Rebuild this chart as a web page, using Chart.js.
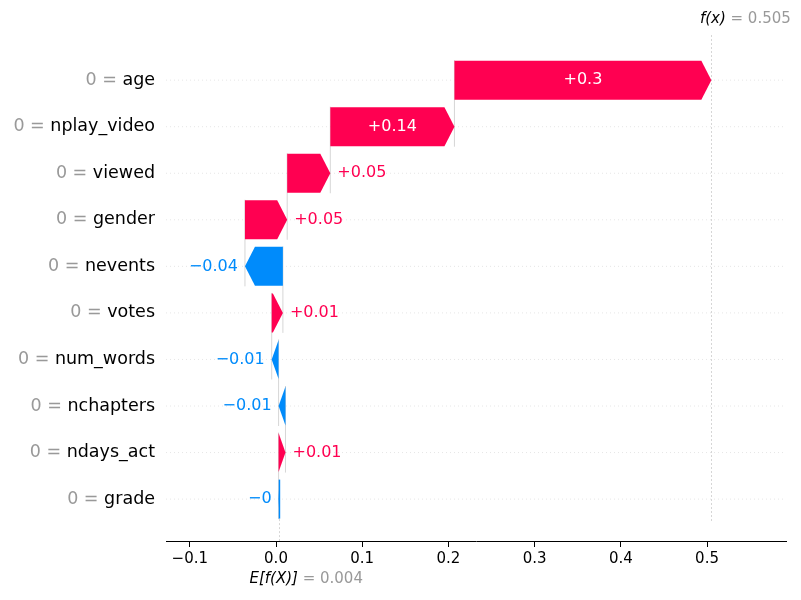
<!DOCTYPE html>
<html><head><meta charset="utf-8">
<script src="https://cdn.jsdelivr.net/npm/chart.js@4/dist/chart.umd.min.js"></script>
<style>body{margin:0;background:#fff}#w{width:801px;height:600px}</style>
</head><body><div id="w"><canvas id="c"></canvas></div>
<script>
// top to bottom
const features = ["age","nplay_video","viewed","gender","nevents","votes","num_words","nchapters","ndays_act","grade"];
const featureValues = ["0","0","0","0","0","0","0","0","0","0"];
const shapValues = [0.298,0.144,0.05,0.049,-0.044,0.013,-0.008,-0.008,0.008,-0.001];
const shapLabels = ["+0.3","+0.14","+0.05","+0.05","\u22120.04","+0.01","\u22120.01","\u22120.01","+0.01","\u22120"];
const baseValue = 0.004;
const fxValue = 0.505;
const xTicks = [-0.1,0,0.1,0.2,0.3,0.4,0.5];

const RED="#ff0051", BLUE="#008bfb", FONT="DejaVu Sans";
const n = features.length;
const data = new Array(n);
let cum = baseValue;
for (let i = n-1; i >= 0; i--) {
  const s = cum, e = cum + shapValues[i];
  data[i] = {x:[s,e], y:n-1-i};
  cum = e;
}

const plug = {
  id:'shap',
  beforeDatasetsDraw(ch){
    const c=ch.ctx, a=ch.chartArea, xs=ch.scales.x, ys=ch.scales.y;
    c.save();
    c.strokeStyle="#e6e6e6"; c.lineWidth=1; c.setLineDash([1,3]);
    for(let i=0;i<n;i++){const y=ys.getPixelForValue(i);c.beginPath();c.moveTo(a.left,y);c.lineTo(a.right,y);c.stroke();}
    c.setLineDash([]);
    c.strokeStyle="#bbbbbb"; c.lineWidth=0.6;
    for(let i=1;i<n;i++){
      const x=xs.getPixelForValue(data[i].x[1]);
      c.beginPath();c.moveTo(x,ys.getPixelForValue(n-1-i)+20);c.lineTo(x,ys.getPixelForValue(n-i)-20);c.stroke();
    }
    c.setLineDash([2,2]);
    let x=xs.getPixelForValue(fxValue);
    c.beginPath();c.moveTo(x,a.top);c.lineTo(x,a.bottom-20);c.stroke();
    x=xs.getPixelForValue(baseValue);
    c.beginPath();c.moveTo(x,ys.getPixelForValue(0));c.lineTo(x,a.bottom);c.stroke();
    c.restore();
  },
  afterDatasetsDraw(ch){
    const c=ch.ctx, xs=ch.scales.x, ys=ch.scales.y;
    const meta=ch.getDatasetMeta(0);
    c.save();
    c.textBaseline="middle";
    meta.data.forEach((el,i)=>{
      const v=shapValues[i];
      const p=el.getProps(['y','height'],true);
      const s=xs.getPixelForValue(data[i].x[0]), e=xs.getPixelForValue(data[i].x[1]), h=p.height, y=p.y;
      const len=Math.abs(e-s), dir=v>=0?1:-1;
      const hl=Math.min(len,10);
      c.fillStyle=v>=0?RED:BLUE;
      c.beginPath();
      c.moveTo(s,y-h/2);c.lineTo(e-dir*hl,y-h/2);c.lineTo(e,y);c.lineTo(e-dir*hl,y+h/2);c.lineTo(s,y+h/2);c.closePath();
      c.fill();
      if(len<1){c.strokeStyle=c.fillStyle;c.lineWidth=1.5;c.beginPath();c.moveTo(s,y-h/2);c.lineTo(s,y+h/2);c.stroke();}
      c.font="16px "+FONT;
      const t=shapLabels[i], tw=c.measureText(t).width;
      if(tw+20<len){c.fillStyle="#fff";c.textAlign="center";c.fillText(t,(s+e)/2,y);}
      else if(v>=0){c.fillStyle=RED;c.textAlign="left";c.fillText(t,Math.max(s,e)+7,y);}
      else{c.fillStyle=BLUE;c.textAlign="right";c.fillText(t,Math.min(s,e)-7,y);}
      c.font="17.5px "+FONT;
      c.textAlign="right";c.fillStyle="#000";
      const nm=features[i]; c.fillText(nm,155,y);
      const nw=c.measureText(nm).width;
      c.fillStyle="#999";c.fillText(featureValues[i]+" = ",155-nw,y);
    });
    const fx=xs.getPixelForValue(fxValue);
    c.font="italic 15px "+FONT; c.textAlign="left"; c.fillStyle="#000";
    const l1="f(x)", l1w=c.measureText(l1).width;
    c.font="15px "+FONT; const l2=" = "+fxValue, l2w=c.measureText(l2).width;
    let x0=fx-(l1w+l2w)/2+34;
    c.font="italic 15px "+FONT; c.fillText(l1,x0,19);
    c.font="15px "+FONT; c.fillStyle="#999"; c.fillText(l2,x0+l1w,19);
    const ex=xs.getPixelForValue(baseValue);
    c.font="italic 15px "+FONT; c.fillStyle="#000";
    const e1="E[f(X)]", e1w=c.measureText(e1).width;
    let ex0=ex-30; c.fillText(e1,ex0,579);
    c.font="15px "+FONT; c.fillStyle="#999"; c.fillText(" = "+baseValue,ex0+e1w,579);
    c.restore();
  }
};

new Chart(document.getElementById('c'),{
  type:'bar',
  data:{datasets:[{data:data,backgroundColor:'rgba(0,0,0,0)',borderWidth:0,barThickness:39}]},
  options:{
    indexAxis:'y',responsive:true,maintainAspectRatio:false,animation:false,
    layout:{padding:{left:166,right:15,top:35,bottom:29}},
    plugins:{legend:{display:false},tooltip:{enabled:false}},
    scales:{
      y:{type:'linear',display:false,offset:false,min:-0.9,max:9.97},
      x:{type:'linear',min:-0.1276,max:0.5916,
        afterBuildTicks(ax){ax.ticks=xTicks.map(v=>({value:v}));},
        grid:{drawOnChartArea:false,drawTicks:true,tickLength:6,color:'#000'},
        border:{display:true,color:'#000',width:1},
        ticks:{color:'#000',font:{family:FONT,size:15},padding:3,callback:v=>(v<0?'\u2212':'')+Math.abs(v).toFixed(1)}
      }
    }
  },
  plugins:[plug]
});
</script></body></html>
